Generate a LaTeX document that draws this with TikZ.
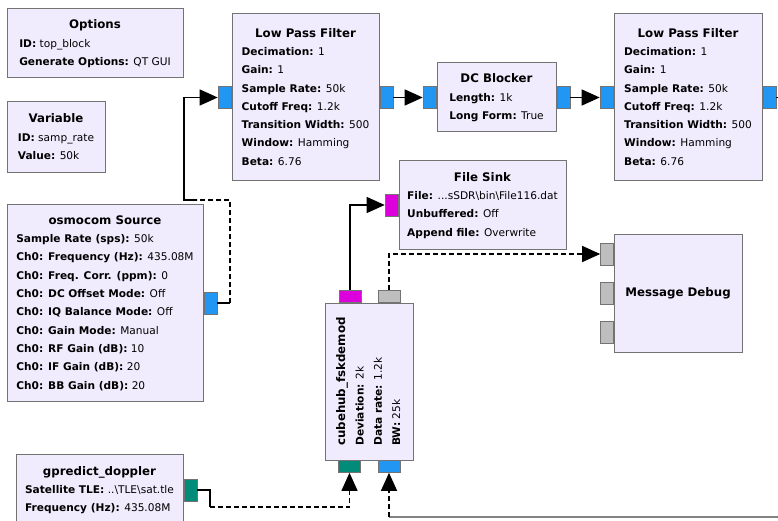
\documentclass[tikz,border=0pt]{standalone}
\usepackage{fontspec}
\setmainfont{DejaVu Sans}
\usetikzlibrary{arrows.meta,positioning}

\definecolor{blockfill}{RGB}{240,236,253}
\definecolor{blockline}{RGB}{115,115,115}
\definecolor{complexport}{RGB}{33,150,243}
\definecolor{byteport}{RGB}{220,0,220}
\definecolor{msgport}{RGB}{190,190,190}
\definecolor{shortport}{RGB}{0,140,120}
\definecolor{loopline}{RGB}{130,130,130}

% title centred over a left aligned list of parameters
\newcommand{\blktitle}{\fontsize{11.8}{18.3}\selectfont\bfseries}
\newcommand{\blkparam}[2]{\textbf{#1:} #2}
\newcommand{\blocktext}[2]{\begin{tabular}{@{}l@{}}\multicolumn{1}{@{}c@{}}{\blktitle #1}\\ #2\end{tabular}}

\begin{document}
\begin{tikzpicture}[x=1pt, y=-1pt,
    block/.style={draw=blockline, fill=blockfill, line width=1pt, inner sep=0pt, font=\fontsize{10.6}{18.3}\selectfont},
    hport/.style={draw=blockline, line width=0.8pt, minimum width=13pt, minimum height=22pt, inner sep=0pt},
    vport/.style={draw=blockline, line width=0.8pt, minimum width=22pt, minimum height=12pt, inner sep=0pt},
    wire/.style={line width=1.2pt},
    >={Triangle[length=18pt, width=16pt]}]
    \useasboundingbox (0,0) rectangle (778,521);
    \clip (0,0) rectangle (778,521);
    \fill[white] (0,0) rectangle (778,521);

    % variables
    \node[block, minimum width=176pt, minimum height=69pt] (opts) at (95,43.5)
        {\blocktext{Options}{\blkparam{ID}{top\_block}\\ \blkparam{Generate Options}{QT GUI}}};
    \node[block, minimum width=98pt, minimum height=71pt] (var) at (56,137.5)
        {\blocktext{Variable}{\blkparam{ID}{samp\_rate}\\ \blkparam{Value}{50k}}};

    % filter chain
    \node[block, minimum width=147pt, minimum height=167pt] (lpfa) at (305.5,97.5)
        {\blocktext{Low Pass Filter}{\blkparam{Decimation}{1}\\ \blkparam{Gain}{1}\\ \blkparam{Sample Rate}{50k}\\ \blkparam{Cutoff Freq}{1.2k}\\ \blkparam{Transition Width}{500}\\ \blkparam{Window}{Hamming}\\ \blkparam{Beta}{6.76}}};
    \node[block, minimum width=119pt, minimum height=69pt] (dcb) at (496.5,97.5)
        {\blocktext{DC Blocker}{\blkparam{Length}{1k}\\ \blkparam{Long Form}{True}}};
    \node[block, minimum width=148pt, minimum height=167pt] (lpfb) at (688,97.5)
        {\blocktext{Low Pass Filter}{\blkparam{Decimation}{1}\\ \blkparam{Gain}{1}\\ \blkparam{Sample Rate}{50k}\\ \blkparam{Cutoff Freq}{1.2k}\\ \blkparam{Transition Width}{500}\\ \blkparam{Window}{Hamming}\\ \blkparam{Beta}{6.76}}};

    % source, sinks, demodulator
    \node[block, minimum width=196pt, minimum height=196pt] (osmo) at (105,303)
        {\blocktext{osmocom Source}{\blkparam{Sample Rate (sps)}{50k}\\ \blkparam{Ch0: Frequency (Hz)}{435.08M}\\ \blkparam{Ch0: Freq. Corr. (ppm)}{0}\\ \blkparam{Ch0: DC Offset Mode}{Off}\\ \blkparam{Ch0: IQ Balance Mode}{Off}\\ \blkparam{Ch0: Gain Mode}{Manual}\\ \blkparam{Ch0: RF Gain (dB)}{10}\\ \blkparam{Ch0: IF Gain (dB)}{20}\\ \blkparam{Ch0: BB Gain (dB)}{20}}};
    \node[block, minimum width=167pt, minimum height=88pt] (sink) at (482.5,205)
        {\blocktext{File Sink}{\blkparam{File}{...sSDR\textbackslash{}bin\textbackslash{}File116.dat}\\ \blkparam{Unbuffered}{Off}\\ \blkparam{Append file}{Overwrite}}};
    \node[block, minimum width=128pt, minimum height=118pt] (dbg) at (678,293)
        {\blktitle Message Debug};
    \node[block, rotate=90, minimum width=157pt, minimum height=88pt] (hub) at (369,381.5)
        {\blocktext{cubehub\_fskdemod}{\blkparam{Deviation}{2k}\\ \blkparam{Data rate}{1.2k}\\ \blkparam{BW}{25k}}};
    \node[block, minimum width=167pt, minimum height=72pt] (dop) at (99.5,490)
        {\blocktext{gpredict\_doppler}{\blkparam{Satellite TLE}{..\textbackslash{}TLE\textbackslash{}sat.tle}\\ \blkparam{Frequency (Hz)}{435.08M}}};

    % ports
    \node[hport, fill=complexport, anchor=east] (lpfa-in) at (lpfa.west) {};
    \node[hport, fill=complexport, anchor=west] (lpfa-out) at (lpfa.east) {};
    \node[hport, fill=complexport, anchor=east] (dcb-in) at (dcb.west) {};
    \node[hport, fill=complexport, anchor=west] (dcb-out) at (dcb.east) {};
    \node[hport, fill=complexport, anchor=east] (lpfb-in) at (lpfb.west) {};
    \node[hport, fill=complexport, anchor=west] (lpfb-out) at (lpfb.east) {};
    \node[hport, fill=complexport, anchor=west] (osmo-out) at (osmo.east) {};
    \node[hport, fill=byteport, anchor=east] (sink-in) at (sink.west) {};
    \node[hport, fill=msgport, anchor=east] (dbg-in1) at (614,254) {};
    \node[hport, fill=msgport, anchor=east] (dbg-in2) at (614,293) {};
    \node[hport, fill=msgport, anchor=east] (dbg-in3) at (614,332.5) {};
    \node[vport, fill=byteport, anchor=south] (hub-out1) at (350,303) {};
    \node[vport, fill=msgport, anchor=south] (hub-out2) at (389,303) {};
    \node[vport, fill=shortport, anchor=north] (hub-in1) at (349.5,460) {};
    \node[vport, fill=complexport, anchor=north] (hub-in2) at (389,460) {};
    \node[hport, fill=shortport, anchor=west] (dop-out) at (dop.east) {};

    % bend points
    \coordinate (osmo-up) at (230,200);
    \coordinate (osmo-mid) at (197,200);
    \coordinate (osmo-left) at (184,200);
    \coordinate (dop-turn) at (210,507);
    \coordinate (loop-edge) at (778,517);

    % connections
    \draw[wire] (osmo-out.east) -- (osmo-out.east -| osmo-up);
    \draw[wire, dash pattern=on 5pt off 3pt] (osmo-out.east -| osmo-up) -- (osmo-up) -- (osmo-mid);
    \draw[wire, ->] (osmo-mid) -- (osmo-left) |- (lpfa-in.west);
    \draw[wire, ->] (lpfa-out) -- (dcb-in);
    \draw[wire, ->] (dcb-out) -- (lpfb-in);
    \draw[wire] (lpfb-out.east) -- (lpfb-out.east -| loop-edge);
    \draw[wire, ->] (hub-out1.north) |- (sink-in.west);
    \draw[wire, dash pattern=on 5pt off 3pt, ->] (hub-out2.north) |- (dbg-in1.west);
    \draw[wire] (dop-out.east) -| (dop-turn);
    \draw[wire, dash pattern=on 5pt off 3pt, ->] (dop-turn) -| (hub-in1.south);
    \draw[wire, loopline] (loop-edge) -- (loop-edge -| hub-in2);
    \draw[wire, dash pattern=on 5pt off 3pt, ->] (loop-edge -| hub-in2) -- (hub-in2.south);
\end{tikzpicture}
\end{document}
